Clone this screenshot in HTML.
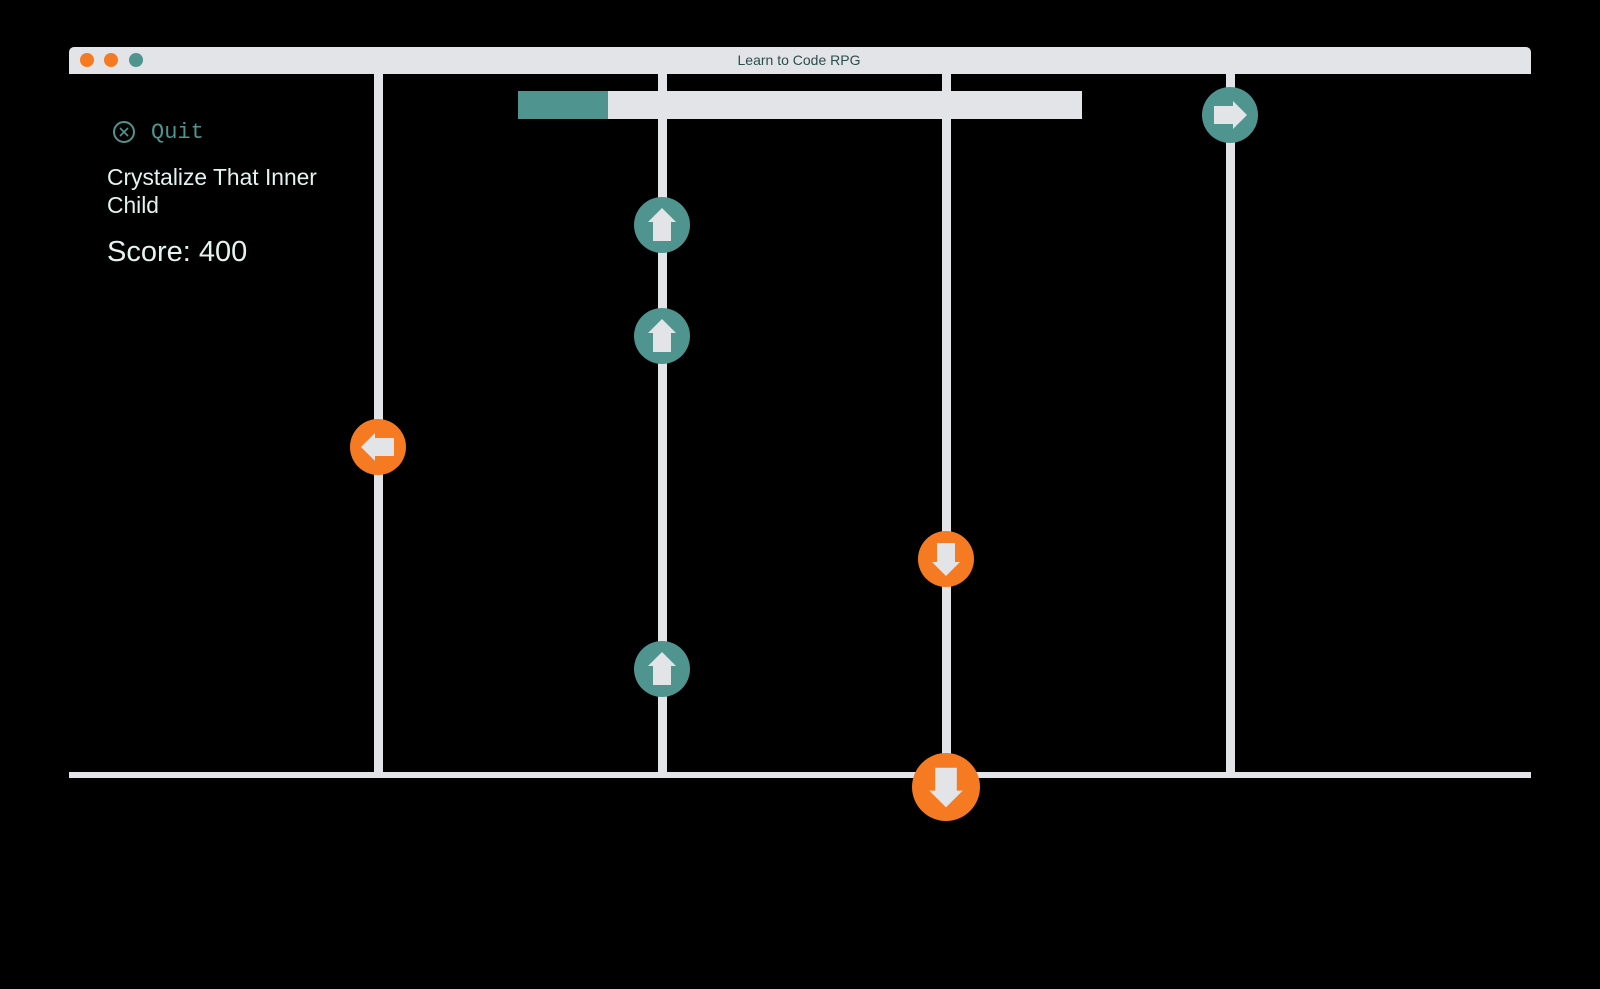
<!DOCTYPE html>
<html><head><meta charset="utf-8"><style>
html,body{margin:0;padding:0;background:#000;width:1600px;height:989px;overflow:hidden}
body{position:relative;font-family:"Liberation Sans",sans-serif}
.t{position:absolute;color:#e3f3f0;white-space:nowrap}
</style></head><body>
<svg width="1600" height="989" style="position:absolute;left:0;top:0">
<defs>
<path id="up" d="M0,-17 L14,-3 L9,-3 L9,16 L-9,16 L-9,-3 L-14,-3 Z" fill="#e2e4e8"/>
</defs>
<rect x="0" y="0" width="1600" height="989" fill="#000"/>
<rect x="69" y="47" width="1462" height="27" rx="5" fill="#e2e4e8"/>
<rect x="69" y="62" width="1462" height="12" fill="#e2e4e8"/>
<circle cx="87" cy="60" r="7" fill="#f57a22"/>
<circle cx="111" cy="60" r="7" fill="#f57a22"/>
<circle cx="136" cy="60" r="7" fill="#4f948f"/>
<text x="799" y="65" text-anchor="middle" font-family="Liberation Sans" font-size="14" fill="#2d4d4b">Learn to Code RPG</text>
<g fill="#e2e4e8">
<rect x="374" y="74" width="9" height="702"/>
<rect x="658" y="74" width="9" height="702"/>
<rect x="942" y="74" width="9" height="702"/>
<rect x="1226" y="74" width="9" height="702"/>
<rect x="69" y="772" width="1462" height="6"/>
</g>
<rect x="518" y="91" width="564" height="28" fill="#e2e4e8"/>
<rect x="518" y="91" width="90" height="28" fill="#4f948f"/>
<g fill="#4f948f">
<circle cx="662" cy="225" r="28"/><circle cx="662" cy="336" r="28"/><circle cx="662" cy="669" r="28"/><circle cx="1230" cy="115" r="28"/>
</g>
<g fill="#f57a22">
<circle cx="378" cy="447" r="28"/><circle cx="946" cy="559" r="28"/><circle cx="946" cy="787" r="34"/>
</g>
<use href="#up" transform="translate(662,225)"/>
<use href="#up" transform="translate(662,336)"/>
<use href="#up" transform="translate(662,669)"/>
<use href="#up" transform="translate(1230,115) rotate(90)"/>
<use href="#up" transform="translate(378,447) rotate(-90)"/>
<use href="#up" transform="translate(946,559) rotate(180)"/>
<use href="#up" transform="translate(946,787) rotate(180) scale(1.2)"/>
<circle cx="124" cy="132" r="10" fill="none" stroke="#4f948f" stroke-width="2"/>
<path d="M120,128 L128,136 M128,128 L120,136" stroke="#4f948f" stroke-width="1.6"/>
</svg>
<div class="t" style="left:151px;top:120px;font-family:'Liberation Mono',monospace;font-size:22px;color:#4f948f">Quit</div>
<div class="t" style="left:107px;top:163px;font-size:22.8px;line-height:28px">Crystalize That Inner<br>Child</div>
<div class="t" style="left:107px;top:236px;font-size:29px">Score: 400</div>
</body></html>
